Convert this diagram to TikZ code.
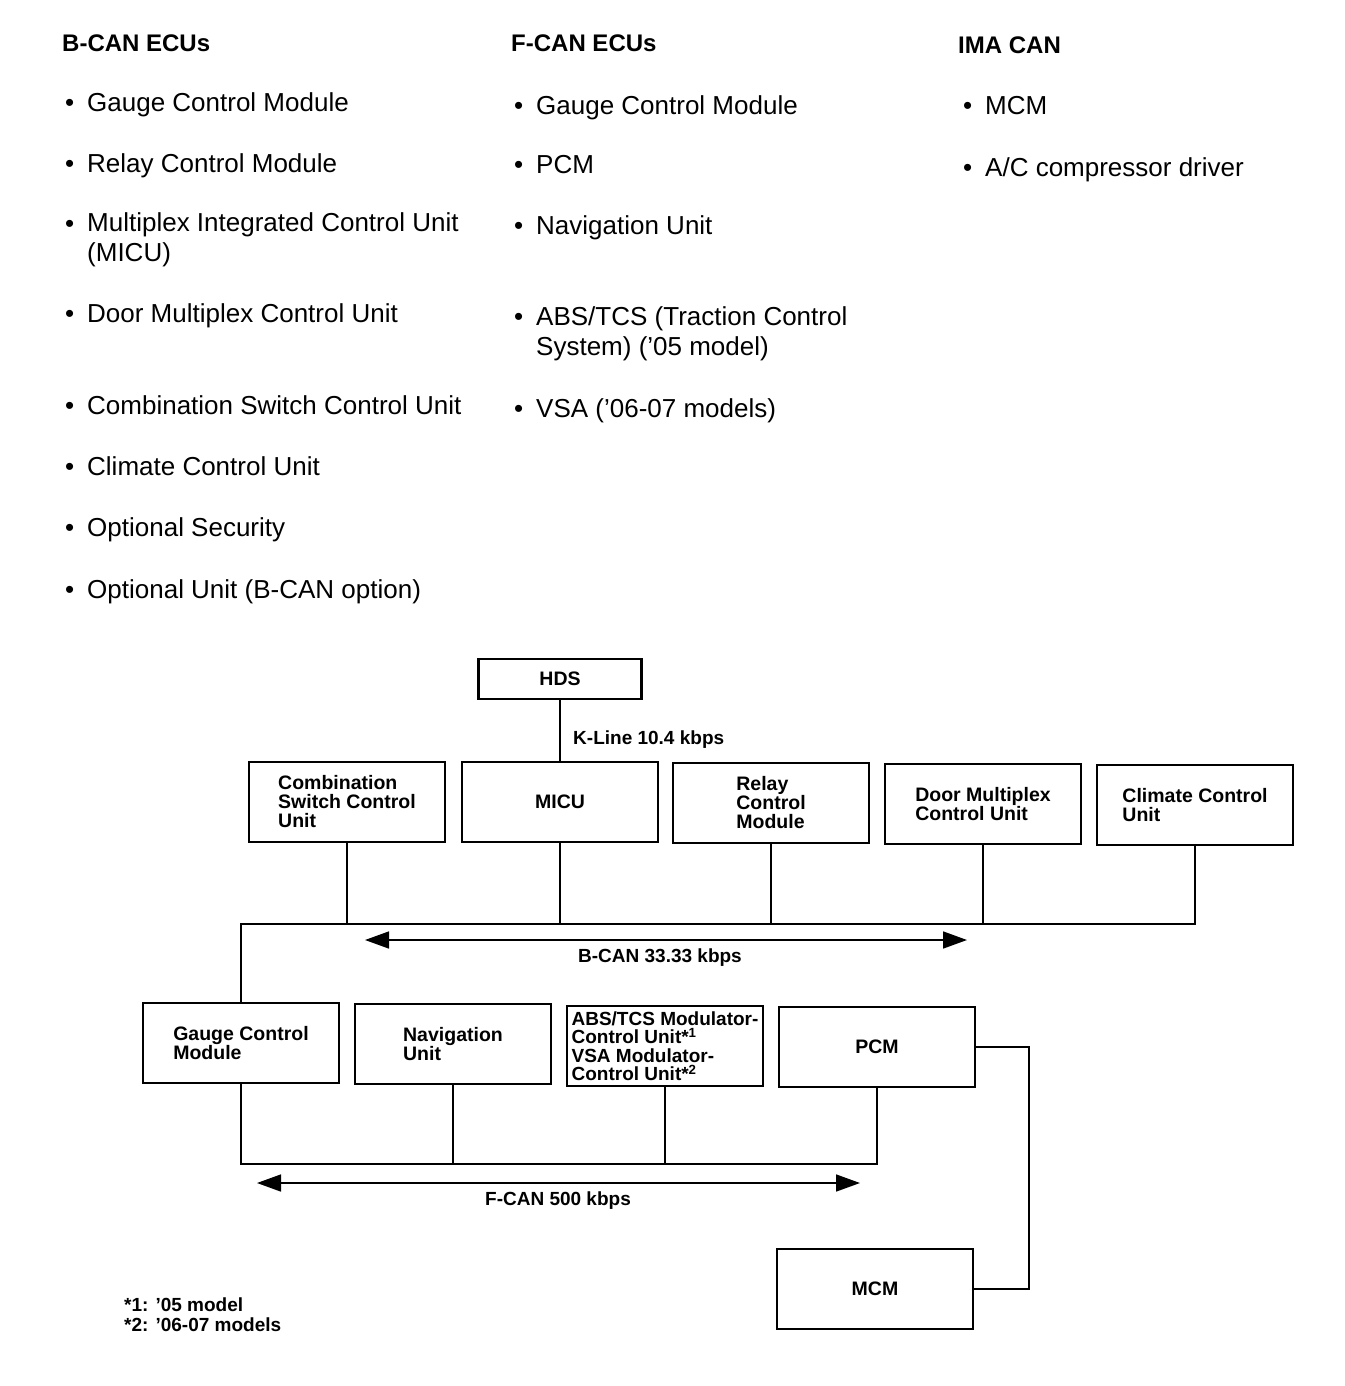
\documentclass[tikz,border=0pt]{standalone}
\usepackage{fontspec}
\setmainfont{Liberation Sans}
\usetikzlibrary{arrows.meta}
\tikzset{
  ecubox/.style={draw, line width=2.4pt, minimum width=196pt, minimum height=80pt,
    inner sep=0pt, align=left, font=\fontsize{19.5}{19}\selectfont\bfseries},
  wire/.style={line width=1.4pt},
  busarrow/.style={line width=1.6pt, {Triangle[length=24pt,width=17pt]}-{Triangle[length=24pt,width=17pt]}},
  headtext/.style={anchor=base west, inner sep=0pt, font=\fontsize{24}{28}\selectfont\bfseries},
  listtext/.style={anchor=base west, inner sep=0pt, align=left, font=\fontsize{26}{29.5}\selectfont},
  dottext/.style={anchor=base west, inner sep=0pt, font=\fontsize{26}{29.5}\selectfont},
  labeltext/.style={inner sep=0pt, align=left, font=\fontsize{19}{20}\selectfont\bfseries}
}

\begin{document}
\begin{tikzpicture}[x=1pt,y=-1pt]
\useasboundingbox (0,0) rectangle (1344,1386);
% lists of units on each bus
\node[headtext] (bhead) at (62,52) {B-CAN ECUs};
\node[headtext] (fhead) at (511,52) {F-CAN ECUs};
\node[headtext] (ihead) at (958,54) {IMA CAN};

\node[dottext] (bdot1) at (65,112) {\textbullet};
\node[listtext] (bitem1) at (87,112) {Gauge Control Module};
\node[dottext] (bdot2) at (65,172) {\textbullet};
\node[listtext] (bitem2) at (87,172) {Relay Control Module};
\node[dottext] (bdot3) at (65,232) {\textbullet};
\node[listtext] (bitem3) at (87,261) {Multiplex Integrated Control Unit\\(MICU)};
\node[dottext] (bdot4) at (65,322) {\textbullet};
\node[listtext] (bitem4) at (87,322) {Door Multiplex Control Unit};
\node[dottext] (bdot5) at (65,414) {\textbullet};
\node[listtext] (bitem5) at (87,414) {Combination Switch Control Unit};
\node[dottext] (bdot6) at (65,475) {\textbullet};
\node[listtext] (bitem6) at (87,475) {Climate Control Unit};
\node[dottext] (bdot7) at (65,536) {\textbullet};
\node[listtext] (bitem7) at (87,536) {Optional Security};
\node[dottext] (bdot8) at (65,598) {\textbullet};
\node[listtext] (bitem8) at (87,598) {Optional Unit (B-CAN option)};

\node[dottext] (fdot1) at (514,114) {\textbullet};
\node[listtext] (fitem1) at (536,114) {Gauge Control Module};
\node[dottext] (fdot2) at (514,173) {\textbullet};
\node[listtext] (fitem2) at (536,173) {PCM};
\node[dottext] (fdot3) at (514,234) {\textbullet};
\node[listtext] (fitem3) at (536,234) {Navigation Unit};
\node[dottext] (fdot4) at (514,325) {\textbullet};
\node[listtext] (fitem4) at (536,355) {ABS/TCS (Traction Control\\System) (’05 model)};
\node[dottext] (fdot5) at (514,417) {\textbullet};
\node[listtext] (fitem5) at (536,417) {VSA (’06-07 models)};

\node[dottext] (idot1) at (963,114) {\textbullet};
\node[listtext] (iitem1) at (985,114) {MCM};
\node[dottext] (idot2) at (963,176) {\textbullet};
\node[listtext] (iitem2) at (985,176) {A/C compressor driver};

% network diagram
\node[ecubox, minimum width=163pt, minimum height=40pt] (hds) at (560,679) {HDS};
\node[ecubox] (comb) at (347,802) {Combination\\Switch Control\\Unit};
\node[ecubox] (micu) at (560,802) {MICU};
\node[ecubox] (relay) at (771,803) {Relay\\Control\\Module};
\node[ecubox] (door) at (983,804) {Door Multiplex\\Control Unit};
\node[ecubox] (clim) at (1195,805) {Climate Control\\Unit};
\node[ecubox] (gcm) at (241,1043) {Gauge Control\\Module};
\node[ecubox] (nav) at (453,1044) {Navigation\\Unit};
\node[ecubox, font=\fontsize{19}{18.5}\selectfont\bfseries] (abs) at (665,1046) {ABS/TCS Modulator-\\Control Unit*\textsuperscript{1}\\VSA Modulator-\\Control Unit*\textsuperscript{2}};
\node[ecubox] (pcm) at (877,1047) {PCM};
\node[ecubox] (mcm) at (875,1289) {MCM};

\draw[wire] (hds) -- (micu);
\node[labeltext, anchor=west] (klabel) at (573,740) {K-Line 10.4 kbps};

\coordinate (bbus) at (1195,924);
\draw[wire] (gcm.north) |- (bbus) -- (clim.south);
\foreach \n in {comb,micu,relay,door}
  \draw[wire] (\n.south) -- (\n.south |- bbus);
\coordinate (bleft) at (365,940);
\coordinate (bright) at (967,940);
\draw[busarrow] (bleft) -- (bright);
\node[labeltext] (blabel) at (660,958) {B-CAN 33.33 kbps};

\coordinate (fbus) at (877,1164);
\draw[wire] (gcm.south) |- (fbus) -- (pcm.south);
\foreach \n in {nav,abs}
  \draw[wire] (\n.south) -- (\n.south |- fbus);
\coordinate (fleft) at (257,1183);
\coordinate (fright) at (860,1183);
\draw[busarrow] (fleft) -- (fright);
\node[labeltext] (flabel) at (558,1201) {F-CAN 500 kbps};

\coordinate (imacorner) at (1029,1289);
\draw[wire] (pcm.east) -| (imacorner) -- (mcm.east);

\node[labeltext, anchor=west] (note1) at (124,1305) {*1: ’05 model};
\node[labeltext, anchor=west] (note2) at (124,1325) {*2: ’06-07 models};
\end{tikzpicture}
\end{document}
